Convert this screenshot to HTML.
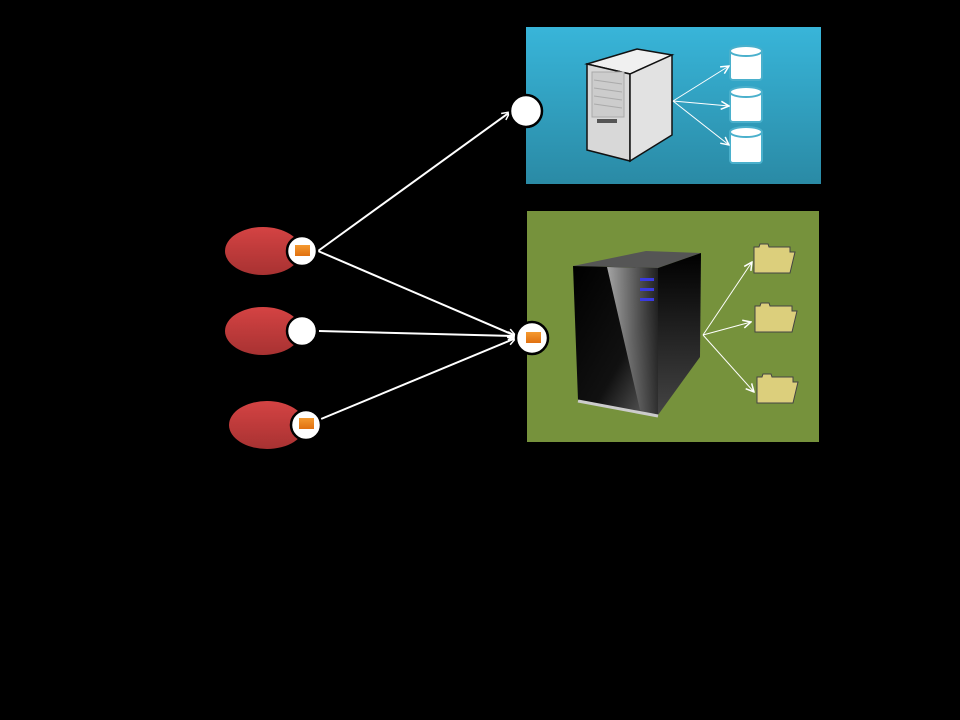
<!DOCTYPE html>
<html><head><style>html,body{margin:0;padding:0;background:#000;width:960px;height:720px;overflow:hidden}</style></head>
<body>
<svg width="960" height="720" viewBox="0 0 960 720" xmlns="http://www.w3.org/2000/svg">
<defs>
<linearGradient id="blue" x1="0" y1="0" x2="0" y2="1"><stop offset="0" stop-color="#38b5d9"/><stop offset="1" stop-color="#2a8aa5"/></linearGradient>
<linearGradient id="red" x1="0" y1="0" x2="0" y2="1"><stop offset="0" stop-color="#d44343"/><stop offset="1" stop-color="#a83232"/></linearGradient>
<linearGradient id="org" x1="0" y1="0" x2="0" y2="1"><stop offset="0" stop-color="#f59a30"/><stop offset="1" stop-color="#e07010"/></linearGradient>
<linearGradient id="blk" x1="0" y1="0" x2="1" y2="1"><stop offset="0" stop-color="#000"/><stop offset="0.6" stop-color="#111"/><stop offset="1" stop-color="#666"/></linearGradient>
<linearGradient id="shine" x1="0" y1="0" x2="1" y2="0"><stop offset="0" stop-color="#ccc"/><stop offset="1" stop-color="#222"/></linearGradient>
<linearGradient id="side" x1="0" y1="0" x2="0" y2="1"><stop offset="0" stop-color="#000"/><stop offset="1" stop-color="#444"/></linearGradient>
<marker id="ah" markerWidth="10" markerHeight="10" refX="9" refY="5" orient="auto" markerUnits="userSpaceOnUse"><path d="M1,1 L9,5 L1,9" fill="none" stroke="#fff" stroke-width="1.5"/></marker>
</defs>
<rect x="526" y="27" width="295" height="157" fill="url(#blue)"/>
<rect x="527" y="211" width="292" height="231" fill="#76923c"/>
<!-- light server -->
<polygon points="587,64 637,49 672,55 630,74" fill="#f0f0f0" stroke="#111" stroke-width="1.5"/>
<polygon points="587,64 630,74 630,161 587,150" fill="#d8d8d8" stroke="#111" stroke-width="1.5"/>
<polygon points="630,74 672,55 672,135 630,161" fill="#e2e2e2" stroke="#111" stroke-width="1.5"/>
<rect x="592" y="72" width="32" height="45" fill="#ccc" stroke="#aaa"/>
<g stroke="#aaa"><line x1="594" y1="80" x2="622" y2="84"/><line x1="594" y1="88" x2="622" y2="92"/><line x1="594" y1="96" x2="622" y2="100"/><line x1="594" y1="104" x2="622" y2="108"/></g>
<rect x="597" y="119" width="20" height="4" fill="#555"/>
<!-- databases -->
<g fill="#fff" stroke="#4ab0cc" stroke-width="2">
<rect x="730" y="50" width="32" height="30" rx="3"/><ellipse cx="746" cy="51" rx="16" ry="5"/>
<rect x="730" y="91" width="32" height="31" rx="3"/><ellipse cx="746" cy="92" rx="16" ry="5"/>
<rect x="730" y="131" width="32" height="32" rx="3"/><ellipse cx="746" cy="132" rx="16" ry="5"/>
</g>
<g stroke="#fff" stroke-width="1" fill="none" marker-end="url(#ah)">
<line x1="673" y1="101" x2="729" y2="66"/><line x1="673" y1="101" x2="729" y2="106"/><line x1="673" y1="101" x2="729" y2="145"/>
<line x1="703" y1="335" x2="752" y2="262"/><line x1="703" y1="335" x2="751" y2="322"/><line x1="703" y1="335" x2="754" y2="392"/>
</g>
<!-- black server -->
<polygon points="573,266 646,251 701,253 658,268" fill="#555"/>
<polygon points="573,266 658,268 658,415 578,400" fill="url(#blk)"/>
<polygon points="607,267 658,268 658,415 640,410" fill="url(#shine)" opacity="0.8"/>
<polygon points="658,268 701,253 700,357 658,415" fill="url(#side)"/>
<line x1="578" y1="401" x2="658" y2="416" stroke="#ccc" stroke-width="3"/>
<g fill="#3a3ae0"><rect x="640" y="278" width="14" height="3"/><rect x="640" y="288" width="14" height="3"/><rect x="640" y="298" width="14" height="3"/></g>
<!-- folders -->
<g fill="#dccf7c" stroke="#444" stroke-width="1">
<path d="M754,273 L754,247 L759,247 L760,244 L768,244 L769,247 L790,247 L790,252 L795,252 L790,273 Z"/>
<path d="M755,332 L755,306 L760,306 L761,303 L769,303 L770,306 L792,306 L792,311 L797,311 L792,332 Z"/>
<path d="M757,403 L757,377 L762,377 L763,374 L771,374 L772,377 L793,377 L793,382 L798,382 L793,403 Z"/>
</g>
<!-- ellipses -->
<ellipse cx="263" cy="251" rx="38" ry="24" fill="url(#red)"/>
<ellipse cx="263" cy="331" rx="38" ry="24" fill="url(#red)"/>
<ellipse cx="267" cy="425" rx="38" ry="24" fill="url(#red)"/>
<!-- connectors -->
<g stroke="#fff" stroke-width="2" fill="none" marker-end="url(#ah)">
<line x1="318" y1="251" x2="510" y2="112"/>
<line x1="318" y1="251" x2="516" y2="336"/>
<line x1="319" y1="331" x2="516" y2="336"/>
<line x1="321" y1="419" x2="516" y2="338"/>
</g>
<!-- ports -->
<g fill="#fff" stroke="#000" stroke-width="2.5">
<circle cx="302" cy="251" r="15"/><circle cx="302" cy="331" r="15"/><circle cx="306" cy="425" r="15"/>
<circle cx="526" cy="111" r="16"/><circle cx="532" cy="338" r="16"/>
</g>
<g fill="url(#org)">
<rect x="295" y="245" width="15" height="11"/><rect x="299" y="418" width="15" height="11"/><rect x="526" y="332" width="15" height="11"/>
</g>
</svg>
</body></html>
